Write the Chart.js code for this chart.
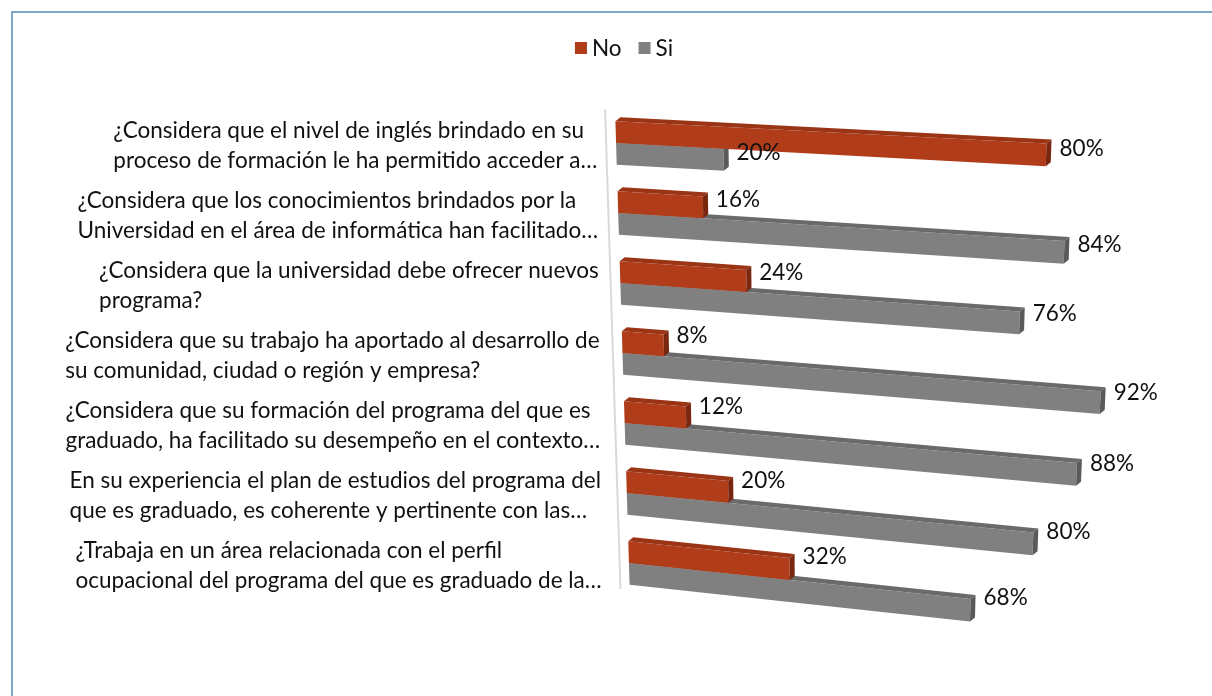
<!DOCTYPE html>
<html>
<head>
<meta charset="utf-8">
<script src="https://cdn.jsdelivr.net/npm/chart.js@4"></script>
<style>
  html, body { margin: 0; padding: 0; background: #fff; }
  #wrap { width: 1212px; height: 696px; }
</style>
</head>
<body>
<div id="wrap"><canvas id="encuesta"></canvas></div>
<script>
const preguntas = [
    ['¿Considera que el nivel de inglés brindado en su', 'proceso de formación le ha permitido acceder a…'],
    ['¿Considera que los conocimientos brindados por la', 'Universidad en el área de informática han facilitado…'],
    ['¿Considera que la universidad debe ofrecer nuevos', 'programa?'],
    ['¿Considera que su trabajo ha aportado al desarrollo de', 'su comunidad, ciudad o región y empresa?'],
    ['¿Considera que su formación del programa del que es', 'graduado, ha facilitado su desempeño en el contexto…'],
    ['En su experiencia el plan de estudios del programa del', 'que es graduado, es coherente y pertinente con las…'],
    ['¿Trabaja en un área relacionada con el perfil', 'ocupacional del programa del que es graduado de la…']
];
const respNo = [80, 16, 24, 8, 12, 20, 32];
const respSi = [20, 84, 76, 92, 88, 80, 68];

const FUENTE = 'Lato, "Open Sans", sans-serif';
const TAM = 22.5;

// colores: cara frontal, cara superior, cara lateral
const tonos = {
    No: ['#B03C1A', '#9A3415', '#7A2710'],
    Si: ['#808080', '#6A6A6A', '#5A5A5A']
};

// vista en perspectiva: las barras bajan hacia la derecha y se acortan hacia abajo
function proyectar(area, px, py) {
    const k = (py - area.top) / area.height;
    const u = (px - area.left) * (1 - 0.075 * k);
    return [area.left + 15 * k + u, py + u * (0.05 + 0.06 * k)];
}

function poligono(ctx, pts, color) {
    ctx.beginPath();
    ctx.moveTo(pts[0][0], pts[0][1]);
    for (let i = 1; i < pts.length; i++) ctx.lineTo(pts[i][0], pts[i][1]);
    ctx.closePath();
    ctx.fillStyle = color;
    ctx.fill();
}

const barras3d = {
    id: 'barras3d',
    beforeDraw(chart) {
        const ctx = chart.ctx;
        ctx.save();
        ctx.fillStyle = '#fff';
        ctx.fillRect(0, 0, chart.width, chart.height);
        ctx.strokeStyle = '#7FA7C6';
        ctx.lineWidth = 2;
        ctx.strokeRect(12, 12, chart.width + 20, chart.height + 20);
        ctx.restore();
    },
    beforeDatasetsDraw(chart) {
        const ctx = chart.ctx;
        const area = chart.chartArea;
        const d = [5, -4];
        ctx.save();

        // eje vertical
        const a0 = proyectar(area, area.left - 10, area.top + 2);
        const a1 = proyectar(area, area.left - 10, area.bottom - 8);
        ctx.strokeStyle = '#D9D9D9';
        ctx.lineWidth = 2;
        ctx.beginPath();
        ctx.moveTo(a0[0], a0[1]);
        ctx.lineTo(a1[0], a1[1]);
        ctx.stroke();

        // primero Si (detrás), luego No
        const etiquetas = [];
        [1, 0].forEach(di => {
            const ds = chart.data.datasets[di];
            const colores = tonos[ds.label];
            chart.getDatasetMeta(di).data.forEach((bar, i) => {
                const h = bar.height / 2;
                const tl = proyectar(area, bar.base, bar.y - h);
                const tr = proyectar(area, bar.x, bar.y - h);
                const br = proyectar(area, bar.x, bar.y + h);
                const bl = proyectar(area, bar.base, bar.y + h);
                const mov = p => [p[0] + d[0], p[1] + d[1]];
                poligono(ctx, [tl, tr, br, bl], colores[0]);
                poligono(ctx, [tl, tr, mov(tr), mov(tl)], colores[1]);
                poligono(ctx, [tr, br, mov(br), mov(tr)], colores[2]);
                const k = (bar.y - area.top) / area.height;
                etiquetas.push([tr[0] + 13, (tr[1] + br[1]) / 2 - 6 - 7 * k, ds.data[i] + '%']);
            });
        });

        ctx.fillStyle = '#111';
        ctx.font = TAM + 'px ' + FUENTE;
        ctx.textBaseline = 'middle';
        ctx.textAlign = 'left';
        etiquetas.forEach(e => ctx.fillText(e[2], e[0], e[1]));

        // preguntas a la izquierda, alineadas a la izquierda dentro de cada bloque
        const yEje = chart.scales.y;
        preguntas.forEach((lineas, i) => {
            const cy = yEje.getPixelForValue(i) + 3;
            const k = (cy - area.top) / area.height;
            const derecha = area.left - 18 + 5 * k;
            const ancho = Math.max(...lineas.map(l => ctx.measureText(l).width));
            const x0 = derecha - ancho;
            const alto = 30;
            lineas.forEach((l, j) => {
                ctx.fillText(l, x0, cy + (j - (lineas.length - 1) / 2) * alto);
            });
        });

        // leyenda
        const items = chart.data.datasets.map(ds => ({ txt: ds.label, col: tonos[ds.label][0] }));
        const caja = 12, sep = 5, hueco = 17;
        let total = 0;
        items.forEach(it => { it.w = ctx.measureText(it.txt).width; total += caja + sep + it.w; });
        total += hueco * (items.length - 1);
        let lx = 624 - total / 2;
        items.forEach(it => {
            ctx.fillStyle = it.col;
            ctx.fillRect(lx, 42, caja, caja);
            ctx.fillStyle = '#111';
            ctx.fillText(it.txt, lx + caja + sep, 49);
            lx += caja + sep + it.w + hueco;
        });

        ctx.restore();
        return false;
    }
};

new Chart(document.getElementById('encuesta'), {
    type: 'bar',
    data: {
        labels: preguntas,
        datasets: [
            { label: 'No', data: respNo, backgroundColor: tonos.No[0] },
            { label: 'Si', data: respSi, backgroundColor: tonos.Si[0] }
        ]
    },
    options: {
        indexAxis: 'y',
        responsive: true,
        maintainAspectRatio: false,
        animation: false,
        categoryPercentage: 0.62,
        barPercentage: 1,
        layout: { padding: { left: 615, right: 57, top: 108, bottom: 98 } },
        plugins: { legend: { display: false }, tooltip: { enabled: false } },
        scales: {
            x: { display: false, min: 0, max: 100 },
            y: { display: false }
        }
    },
    plugins: [barras3d]
});
</script>
</body>
</html>
